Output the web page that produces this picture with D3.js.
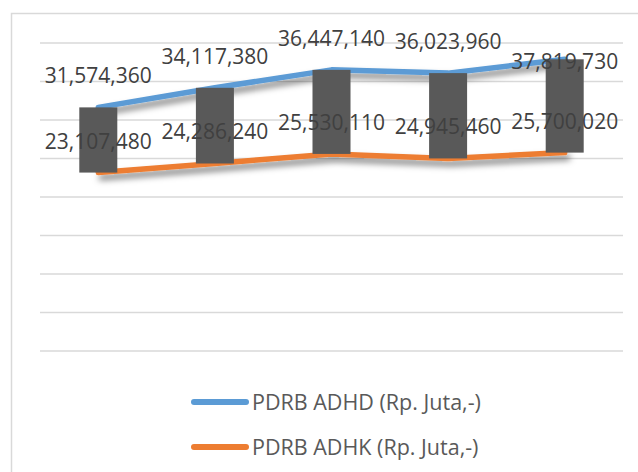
<!DOCTYPE html>
<html>
<head>
<meta charset="utf-8">
<script src="https://cdn.jsdelivr.net/npm/d3@7"></script>
<style>
  body { margin: 0; background: #fff; }
  text { font-family: "Open Sans", sans-serif; }
</style>
</head>
<body>
<div id="chart"></div>
<script>
// chart values
var categories = ["1", "2", "3", "4", "5"];
var adhd = [31574360, 34117380, 36447140, 36023960, 37819730];
var adhk = [23107480, 24286240, 25530110, 24945460, 25700020];
var yTicks = [0, 5000000, 10000000, 15000000, 20000000, 25000000, 30000000, 35000000, 40000000];
var seriesNames = ["PDRB ADHD (Rp. Juta,-)", "PDRB ADHK (Rp. Juta,-)"];
var adhdLabelPos = ["above", "above", "above", "above", "center"];
var adhkLabelPos = ["above", "above", "above", "above", "above"];

var svgWidth = 638;
var svgHeight = 472;

var margin = { top: 42.5, left: 40, right: 15, bottom: 121.5 };
var plotW = svgWidth - margin.left - margin.right;
var plotH = svgHeight - margin.top - margin.bottom;

var svg = d3.select("#chart")
  .append("svg")
  .attr("width", svgWidth)
  .attr("height", svgHeight);

// soft drop shadow like the office chart effect
var defs = svg.append("defs");
defs.append("filter")
  .attr("id", "shadow")
  .attr("x", "-10%").attr("y", "-50%")
  .attr("width", "130%").attr("height", "250%")
  .append("feDropShadow")
  .attr("dx", 3).attr("dy", 5)
  .attr("stdDeviation", 3)
  .attr("flood-color", "#000")
  .attr("flood-opacity", 0.5);

// outer frame (cropped on right/bottom)
svg.append("rect")
  .attr("x", 11.5).attr("y", 13.5)
  .attr("width", 700).attr("height", 600)
  .attr("fill", "none")
  .attr("stroke", "#d9d9d9")
  .attr("stroke-width", 1.5);

var g = svg.append("g")
  .attr("transform", "translate(" + margin.left + "," + margin.top + ")");

var x = d3.scaleBand().domain(categories).range([0, plotW]);
var y = d3.scaleLinear().domain([0, 40000000]).range([plotH, 0]);

// gridlines
var grid = g.append("g")
  .call(d3.axisLeft(y).tickValues(yTicks).tickSize(-plotW).tickFormat(""));
grid.select(".domain").remove();
grid.selectAll("line")
  .attr("stroke", "#d9d9d9")
  .attr("stroke-width", 1.6);

var cx = function (d, i) { return x(categories[i]) + x.bandwidth() / 2; };

var line = d3.line()
  .x(function (d, i) { return x(categories[i]) + x.bandwidth() / 2; })
  .y(function (d) { return y(d); });

g.append("path")
  .datum(adhd)
  .attr("d", line)
  .attr("fill", "none")
  .attr("stroke", "#5b9bd5")
  .attr("stroke-width", 5.5)
  .attr("stroke-linecap", "round")
  .attr("stroke-linejoin", "round")
  .attr("filter", "url(#shadow)");

g.append("path")
  .datum(adhk)
  .attr("d", line)
  .attr("fill", "none")
  .attr("stroke", "#ed7d31")
  .attr("stroke-width", 5.5)
  .attr("stroke-linecap", "round")
  .attr("stroke-linejoin", "round")
  .attr("filter", "url(#shadow)");

// up-down bars
var barW = 38;
g.selectAll("rect.updown")
  .data(categories)
  .enter()
  .append("rect")
  .attr("class", "updown")
  .attr("x", function (d, i) { return cx(d, i) - barW / 2; })
  .attr("y", function (d, i) { return y(Math.max(adhd[i], adhk[i])); })
  .attr("width", barW)
  .attr("height", function (d, i) { return Math.abs(y(adhk[i]) - y(adhd[i])); })
  .attr("fill", "#595959");

// data labels
var fmt = d3.format(",");
function labels(values, pos) {
  g.selectAll(null)
    .data(values)
    .enter()
    .append("text")
    .attr("x", cx)
    .attr("y", function (d, i) { return pos[i] == "above" ? y(d) - 24 : y(d) + 10; })
    .attr("text-anchor", "middle")
    .attr("font-size", 21)
    .attr("fill", "#404040")
    .text(function (d) { return fmt(d); });
}
labels(adhd, adhdLabelPos);
labels(adhk, adhkLabelPos);

// legend
var colors = ["#5b9bd5", "#ed7d31"];
var legend = svg.selectAll("g.legend")
  .data(seriesNames)
  .enter()
  .append("g")
  .attr("class", "legend")
  .attr("transform", function (d, i) { return "translate(192," + (402 + i * 45) + ")"; });

legend.append("line")
  .attr("x1", 2).attr("x2", 54)
  .attr("stroke", function (d, i) { return colors[i]; })
  .attr("stroke-width", 6)
  .attr("stroke-linecap", "round");

legend.append("text")
  .attr("x", 60)
  .attr("y", 8)
  .attr("font-size", 21.5)
  .attr("fill", "#595959")
  .text(function (d) { return d; });
</script>
</body>
</html>
